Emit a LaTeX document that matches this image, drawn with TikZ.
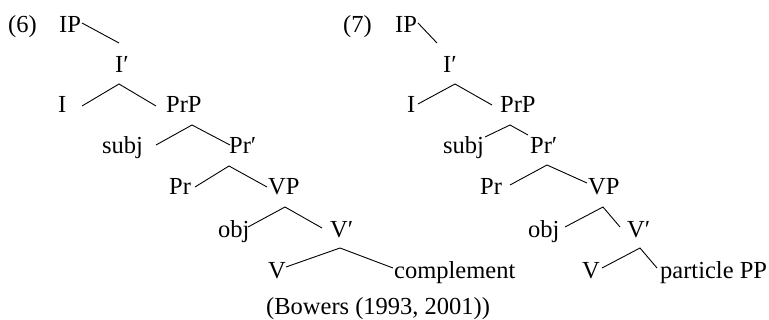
\documentclass[tikz,border=0pt]{standalone}
\usepackage{fontspec}
\setmainfont{Liberation Serif}
\begin{document}
\begin{tikzpicture}[x=1pt,y=-1pt,
  lab/.style={anchor=base west,inner sep=0pt,font=\fontsize{24.5}{29}\selectfont},
  br/.style={line width=0.9pt,black}]
\useasboundingbox (0,0) rectangle (769,320);
% ---------- tree (6)
\node[lab] (lab6) at (8,33) {(6)};
\node[lab] (IPa) at (59,33) {IP};
\node[lab] (Iba) at (115,73) {I′};
\node[lab] (Ia) at (58,113) {I};
\node[lab] (PrPa) at (166,113) {PrP};
\node[lab] (subja) at (102,154) {subj};
\node[lab] (Prba) at (229,154) {Pr′};
\node[lab] (Pra) at (169,195) {Pr};
\node[lab] (VPa) at (268,195) {VP};
\node[lab] (obja) at (218,238) {obj};
\node[lab] (Vba) at (330,238) {V′};
\node[lab] (Va) at (268,279) {V};
\node[lab] (compa) at (394,279) {complement};
\node[lab] (src) at (266,315) {(Bowers (1993, 2001))};
\coordinate (a0s) at (82,23);  \coordinate (a0e) at (119,43);
\coordinate (a1l) at (82,106); \coordinate (a1) at (119,84); \coordinate (a1r) at (156,106);
\coordinate (a2l) at (156,145); \coordinate (a2) at (192,125); \coordinate (a2r) at (230,145);
\coordinate (a3l) at (195,187); \coordinate (a3) at (229,166); \coordinate (a3r) at (267,187);
\coordinate (a4l) at (248,227); \coordinate (a4) at (285,207); \coordinate (a4r) at (322,228);
\coordinate (a5l) at (286,267); \coordinate (a5) at (340,248); \coordinate (a5r) at (393,268);
\draw[br] (a0s) -- (a0e);
\draw[br] (a1l) -- (a1) -- (a1r);
\draw[br] (a2l) -- (a2) -- (a2r);
\draw[br] (a3l) -- (a3) -- (a3r);
\draw[br] (a4l) -- (a4) -- (a4r);
\draw[br] (a5l) -- (a5) -- (a5r);
% ---------- tree (7)
\node[lab] (lab7) at (343,33) {(7)};
\node[lab] (IPb) at (395,33) {IP};
\node[lab] (Ibb) at (443,73) {I′};
\node[lab] (Ib) at (407,113) {I};
\node[lab] (PrPb) at (500,113) {PrP};
\node[lab] (subjb) at (443,154) {subj};
\node[lab] (Prbb) at (530,154) {Pr′};
\node[lab] (Prb) at (480,195) {Pr};
\node[lab] (VPb) at (588,195) {VP};
\node[lab] (objb) at (528,238) {obj};
\node[lab] (Vbb) at (627,238) {V′};
\node[lab] (Vb) at (582,279) {V};
\node[lab] (ppb) at (660,279) {particle PP};
\coordinate (b0s) at (418,23);  \coordinate (b0e) at (437,43);
\coordinate (b1l) at (418,104); \coordinate (b1) at (455,84); \coordinate (b1r) at (492,105);
\coordinate (b2l) at (485,137); \coordinate (b2) at (510,125); \coordinate (b2r) at (528,135);
\coordinate (b3l) at (510,185); \coordinate (b3) at (547,165); \coordinate (b3r) at (587,183);
\coordinate (b4l) at (565,227); \coordinate (b4) at (603,207); \coordinate (b4r) at (620,227);
\coordinate (b5l) at (602,268); \coordinate (b5) at (640,248); \coordinate (b5r) at (657,268);
\draw[br] (b0s) -- (b0e);
\draw[br] (b1l) -- (b1) -- (b1r);
\draw[br] (b2l) -- (b2) -- (b2r);
\draw[br] (b3l) -- (b3) -- (b3r);
\draw[br] (b4l) -- (b4) -- (b4r);
\draw[br] (b5l) -- (b5) -- (b5r);
\end{tikzpicture}
\end{document}
